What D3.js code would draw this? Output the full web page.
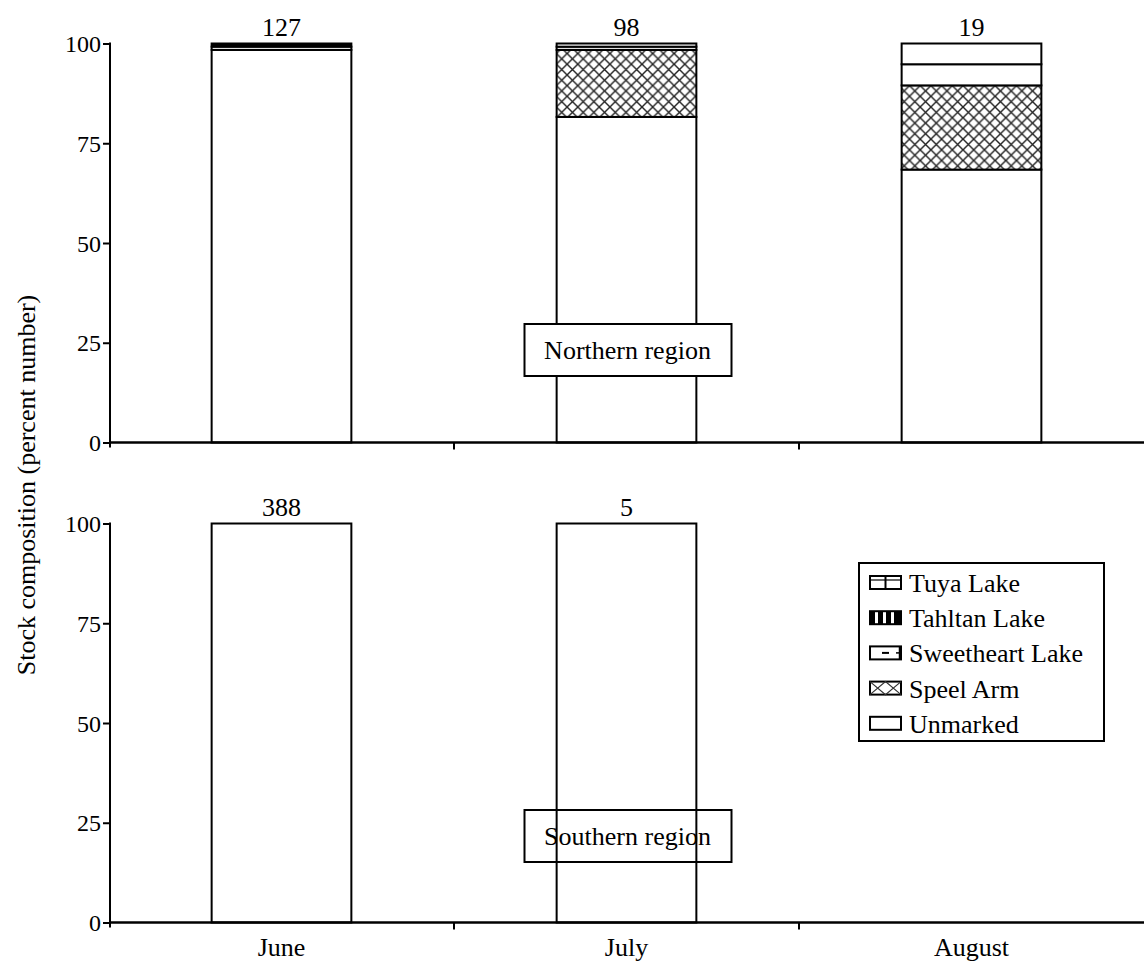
<!DOCTYPE html>
<html><head><meta charset="utf-8">
<script src="https://cdn.jsdelivr.net/npm/d3@7/dist/d3.min.js"></script>
<style>body{margin:0;background:#fff}svg{display:block}</style>
</head><body><svg id="c" width="1144" height="966"></svg>
<script>
const months = ["June","July","August"];
const stocks = ["Unmarked","Speel Arm","Sweetheart Lake","Tahltan Lake","Tuya Lake"];
const legendOrder = ["Tuya Lake","Tahltan Lake","Sweetheart Lake","Speel Arm","Unmarked"];
const yTicks = [0,25,50,75,100];
// Northern region (percent), per stock in order of `stocks`
const northUnmarked   = [98.4, 81.6, 68.4];
const northSpeel      = [0,    16.8, 21.1];
const northSweetheart = [0.8,  0.8,  5.3];
const northTahltan    = [0.8,  0,    0];
const northTuya       = [0,    0.8,  5.2];
const northN          = [127, 98, 19];
// Southern region
const southUnmarked   = [100, 100, null];
const southSpeel      = [0, 0, null];
const southSweetheart = [0, 0, null];
const southTahltan    = [0, 0, null];
const southTuya       = [0, 0, null];
const southN          = [388, 5, null];

const FF = '"Liberation Serif","Times New Roman",Times,serif';
const svg = d3.select("#c");
const defs = svg.append("defs");
const ph = defs.append("pattern").attr("id","hatch").attr("patternUnits","userSpaceOnUse").attr("width",10.7).attr("height",10.7);
ph.append("rect").attr("width",10.7).attr("height",10.7).attr("fill","#fff");
ph.append("path").attr("d","M0,0L10.7,10.7M10.7,0L0,10.7").attr("stroke","#222").attr("stroke-width",1.4);

const fillOf = {"Unmarked":"#fff","Speel Arm":"url(#hatch)","Sweetheart Lake":"#fff","Tahltan Lake":"#000","Tuya Lake":"#fff"};

const x = d3.scaleBand().domain(months).range([109,1144]).padding(0);
const barW = x.bandwidth()*0.405;

const panels = [
  {y0:442.5, y1:43.5, series:[northUnmarked,northSpeel,northSweetheart,northTahltan,northTuya], n:northN, label:"Northern region", labelY:350, labelFill:"#fff", xlabels:false},
  {y0:922.5, y1:523.5, series:[southUnmarked,southSpeel,southSweetheart,southTahltan,southTuya], n:southN, label:"Southern region", labelY:836, labelFill:"none", xlabels:true}
];

function txt(sel, fs){ return sel.style("font-family",FF).style("font-size",(fs||26)+"px").attr("fill","#000"); }

panels.forEach(p=>{
  const y = d3.scaleLinear().domain([0,100]).range([p.y0,p.y1]);
  const g = svg.append("g");
  const rows = months.map((m,i)=>{const r={month:m}; stocks.forEach((s,k)=>r[s]=p.series[k][i]); return r;}).filter((r,i)=>p.n[i]!==null);
  const st = d3.stack().keys(stocks)(rows);
  st.forEach(layer=>{
    g.selectAll(null).data(layer.filter(d=>d[1]-d[0]>0)).enter().append("rect")
      .attr("x",d=>x(d.data.month)+(x.bandwidth()-barW)/2)
      .attr("width",barW)
      .attr("y",d=>y(d[1])).attr("height",d=>y(d[0])-y(d[1]))
      .attr("fill",fillOf[layer.key]).attr("stroke","#000").attr("stroke-width",2);
  });
  txt(g.selectAll(null).data(months.map((m,i)=>({m,n:p.n[i]})).filter(d=>d.n!==null)).enter().append("text")
    .attr("x",d=>x(d.m)+x.bandwidth()/2).attr("y",y(100)-8).attr("text-anchor","middle"))
    .text(d=>d.n);
  const ya = g.append("g").attr("transform","translate(110,0)")
    .call(d3.axisLeft(y).tickValues(yTicks).tickSize(7).tickPadding(2));
  ya.attr("font-family",null).attr("font-size",null);
  ya.select(".domain").remove();
  ya.selectAll("line").attr("stroke","#000").attr("stroke-width",2);
  txt(ya.selectAll("text"), 24).attr("dy","0.34em");
  g.append("line").attr("x1",110).attr("x2",110).attr("y1",p.y1-1).attr("y2",p.y0+5).attr("stroke","#000").attr("stroke-width",2);
  g.append("line").attr("x1",110).attr("x2",1144).attr("y1",p.y0).attr("y2",p.y0).attr("stroke","#000").attr("stroke-width",2.5);
  g.selectAll(null).data(months.slice(1)).enter().append("line")
    .attr("x1",d=>x(d)).attr("x2",d=>x(d)).attr("y1",p.y0).attr("y2",p.y0+7).attr("stroke","#000").attr("stroke-width",2);
  if(p.xlabels){
    txt(g.selectAll(null).data(months).enter().append("text")
      .attr("x",d=>x(d)+x.bandwidth()/2).attr("y",p.y0+33).attr("text-anchor","middle")).text(d=>d);
  }
  const cx = x("July")+x.bandwidth()/2+1;
  g.append("rect").attr("x",cx-103).attr("y",p.labelY-26).attr("width",207).attr("height",52)
    .attr("fill",p.labelFill).attr("stroke","#000").attr("stroke-width",2);
  txt(g.append("text").attr("x",cx).attr("y",p.labelY+9).attr("text-anchor","middle")).text(p.label);
});

txt(svg.append("text").attr("transform","translate(35,485) rotate(-90)").attr("text-anchor","middle"))
  .text("Stock composition (percent number)");

const lg = svg.append("g");
lg.append("rect").attr("x",859).attr("y",563).attr("width",245).attr("height",178).attr("fill","#fff").attr("stroke","#000").attr("stroke-width",2);
legendOrder.forEach((s,i)=>{
  const yb = 592 + i*35.2;
  const ix = 870, iw = 31, ih = 13, iy = yb-16;
  const gi = lg.append("g");
  gi.append("rect").attr("x",ix).attr("y",iy).attr("width",iw).attr("height",ih).attr("fill","#fff").attr("stroke","#000").attr("stroke-width",2);
  if(s==="Tahltan Lake"){
    [0,1,2,3].forEach(k=>gi.append("rect").attr("x",ix+k*8).attr("y",iy).attr("width",5).attr("height",ih).attr("fill","#000"));
    gi.append("rect").attr("x",ix+28).attr("y",iy).attr("width",3).attr("height",ih).attr("fill","#000");
  } else if(s==="Speel Arm"){
    gi.append("path").attr("d",`M${ix},${iy}L${ix+iw/2},${iy+ih}L${ix+iw},${iy}M${ix},${iy+ih}L${ix+iw/2},${iy}L${ix+iw},${iy+ih}`).attr("stroke","#333").attr("fill","none").attr("stroke-width",1.2);
  } else if(s==="Tuya Lake"){
    gi.append("line").attr("x1",ix+iw/2).attr("x2",ix+iw/2).attr("y1",iy).attr("y2",iy+ih).attr("stroke","#000").attr("stroke-width",2);
    gi.append("line").attr("x1",ix).attr("x2",ix+iw).attr("y1",iy+4).attr("y2",iy+4).attr("stroke","#000").attr("stroke-width",1.2);
  } else if(s==="Sweetheart Lake"){
    gi.append("line").attr("x1",ix+12).attr("x2",ix+19).attr("y1",iy+ih/2).attr("y2",iy+ih/2).attr("stroke","#000").attr("stroke-width",2);
    gi.append("line").attr("x1",ix+iw-1).attr("x2",ix+iw-1).attr("y1",iy).attr("y2",iy+ih).attr("stroke","#000").attr("stroke-width",2.5);
    gi.append("line").attr("x1",ix+iw-5).attr("x2",ix+iw).attr("y1",iy+ih/2).attr("y2",iy+ih/2).attr("stroke","#000").attr("stroke-width",1.5);
  }
  txt(lg.append("text").attr("x",909).attr("y",yb)).text(s);
});
</script></body></html>
